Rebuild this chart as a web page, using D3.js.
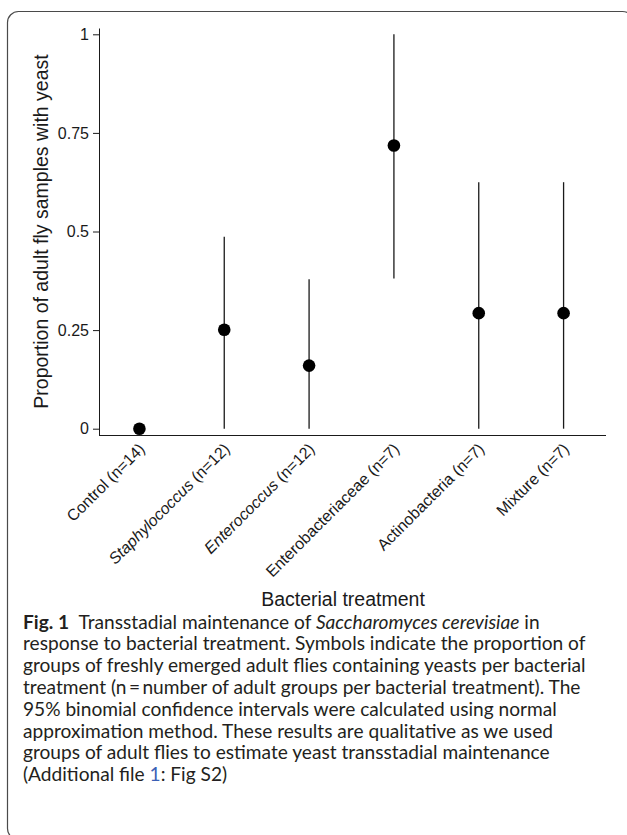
<!DOCTYPE html>
<html>
<head>
<meta charset="utf-8">
<script src="https://cdn.jsdelivr.net/npm/d3@7"></script>
<style>
  html, body { margin: 0; padding: 0; background: #fff; }
  svg { display: block; }
</style>
</head>
<body>
<script>
// ---- data ----
const categories = ["Control", "Staphylococcus", "Enterococcus", "Enterobacteriaceae", "Actinobacteria", "Mixture"];
const groupSizes = [14, 12, 12, 7, 7, 7];
const italicNames = [false, true, true, false, false, false];
const proportion = [0, 0.251, 0.160, 0.718, 0.293, 0.293];
const ciLower = [0, 0, 0, 0.381, 0, 0];
const ciUpper = [0, 0.487, 0.379, 1, 0.625, 0.625];
const yTickValues = [0, 0.25, 0.5, 0.75, 1];
const yTickLabels = ["0", "0.25", "0.5", "0.75", "1"];
const yAxisTitle = "Proportion of adult fly samples with yeast";
const xAxisTitle = "Bacterial treatment";
const captionLines = [
  [{t: "Fig. 1", b: true}, {t: "\u2002Transstadial maintenance of "}, {t: "Saccharomyces cerevisiae", i: true}, {t: " in"}],
  [{t: "response to bacterial treatment. Symbols indicate the proportion of"}],
  [{t: "groups of freshly emerged adult flies containing yeasts per bacterial"}],
  [{t: "treatment (n\u2009=\u2009number of adult groups per bacterial treatment). The"}],
  [{t: "95% binomial confidence intervals were calculated using normal"}],
  [{t: "approximation method. These results are qualitative as we used"}],
  [{t: "groups of adult flies to estimate yeast transstadial maintenance"}],
  [{t: "(Additional file "}, {t: "1", c: "#3b5fb5"}, {t: ": Fig S2)"}]
];

// ---- layout ----
const W = 627, H = 835;
const plotLeft = 99, plotRight = 606, plotTop = 28, plotBottom = 435;
const axisFont = "'Liberation Sans', Arial, Helvetica, sans-serif";
const ink = "#1a1a1a";

const svg = d3.select("body").append("svg").attr("width", W).attr("height", H);
svg.append("rect").attr("width", W).attr("height", H).attr("fill", "#fff");

// rounded frame (right and bottom edges fall just outside the picture)
svg.append("rect")
  .attr("x", 7.5).attr("y", 11.5).attr("width", 626).attr("height", 828)
  .attr("rx", 11).attr("ry", 11)
  .attr("fill", "none").attr("stroke", "#4a4a4a").attr("stroke-width", 1.2);

const data = categories.map((c, i) => ({
  name: c, n: groupSizes[i], italic: italicNames[i],
  p: proportion[i], lo: ciLower[i], hi: ciUpper[i]
}));

const x = d3.scalePoint().domain(categories).range([97, plotRight]).padding(0.5);
const y = d3.scaleLinear().domain([-0.016, 1.016]).range([plotBottom, plotTop]);

// y axis
const yAxis = svg.append("g")
  .attr("transform", `translate(${plotLeft},0)`)
  .call(d3.axisLeft(y).tickValues(yTickValues)
    .tickFormat((d, i) => yTickLabels[i]).tickSize(6).tickSizeOuter(0).tickPadding(4));
yAxis.attr("font-size", 16).attr("font-family", axisFont);
yAxis.selectAll("path, line").attr("stroke", ink);
yAxis.selectAll("text").attr("fill", ink);

// x axis (labels only, line drawn from the box corner)
const xAxis = svg.append("g")
  .attr("transform", `translate(0,${plotBottom})`)
  .call(d3.axisBottom(x).tickSize(0).tickFormat(""));
xAxis.select(".domain").remove();
xAxis.attr("font-size", 16).attr("font-family", axisFont);
xAxis.selectAll(".tick text").each(function (d, i) {
  const t = d3.select(this);
  t.text(null)
    .attr("x", 0).attr("y", 0).attr("dy", "0.35em")
    .attr("text-anchor", "end").attr("fill", ink)
    .attr("transform", "translate(2,11) rotate(-45)");
  t.append("tspan").attr("font-style", data[i].italic ? "italic" : "normal").text(data[i].name);
  t.append("tspan").text(` (n=${data[i].n})`);
});
svg.append("line")
  .attr("x1", plotLeft).attr("x2", plotRight)
  .attr("y1", plotBottom + 0.5).attr("y2", plotBottom + 0.5)
  .attr("stroke", ink).attr("stroke-width", 1);

// error bars
svg.append("g").selectAll("line").data(data.filter(d => d.hi > d.lo)).join("line")
  .attr("x1", d => x(d.name)).attr("x2", d => x(d.name))
  .attr("y1", d => y(d.lo)).attr("y2", d => y(d.hi))
  .attr("stroke", ink).attr("stroke-width", 1.3);

// points
svg.append("g").selectAll("circle").data(data).join("circle")
  .attr("cx", d => x(d.name)).attr("cy", d => y(d.p))
  .attr("r", 6.3).attr("fill", "#000");

// axis titles
svg.append("text")
  .attr("transform", `translate(47.5,${(plotTop + plotBottom) / 2}) rotate(-90)`)
  .attr("text-anchor", "middle").attr("font-family", axisFont).attr("font-size", 19.5)
  .attr("fill", ink).text(yAxisTitle);
svg.append("text")
  .attr("x", 343).attr("y", 606)
  .attr("text-anchor", "middle").attr("font-family", axisFont).attr("font-size", 19.5)
  .attr("fill", ink).text(xAxisTitle);

// caption
const capFont = "Lato, 'Open Sans', sans-serif";
const capG = svg.append("g").attr("font-family", capFont).attr("fill", "#231f20");
const baseSize = 17;
const capTexts = captionLines.map((parts, li) => {
  const t = capG.append("text").attr("x", 23).attr("y", 628.5 + li * 21.8).attr("font-size", baseSize);
  parts.forEach(p => {
    const s = t.append("tspan").text(p.t);
    if (p.b) s.attr("font-weight", "bold");
    if (p.i) s.attr("font-style", "italic");
    if (p.c) s.attr("fill", p.c);
  });
  return t;
});
// fit font size to the reference width of line 3
const w3 = capTexts[2].node().getComputedTextLength();
const fitted = baseSize * 563 / w3;
capTexts.forEach(t => t.attr("font-size", fitted));
</script>
</body>
</html>
